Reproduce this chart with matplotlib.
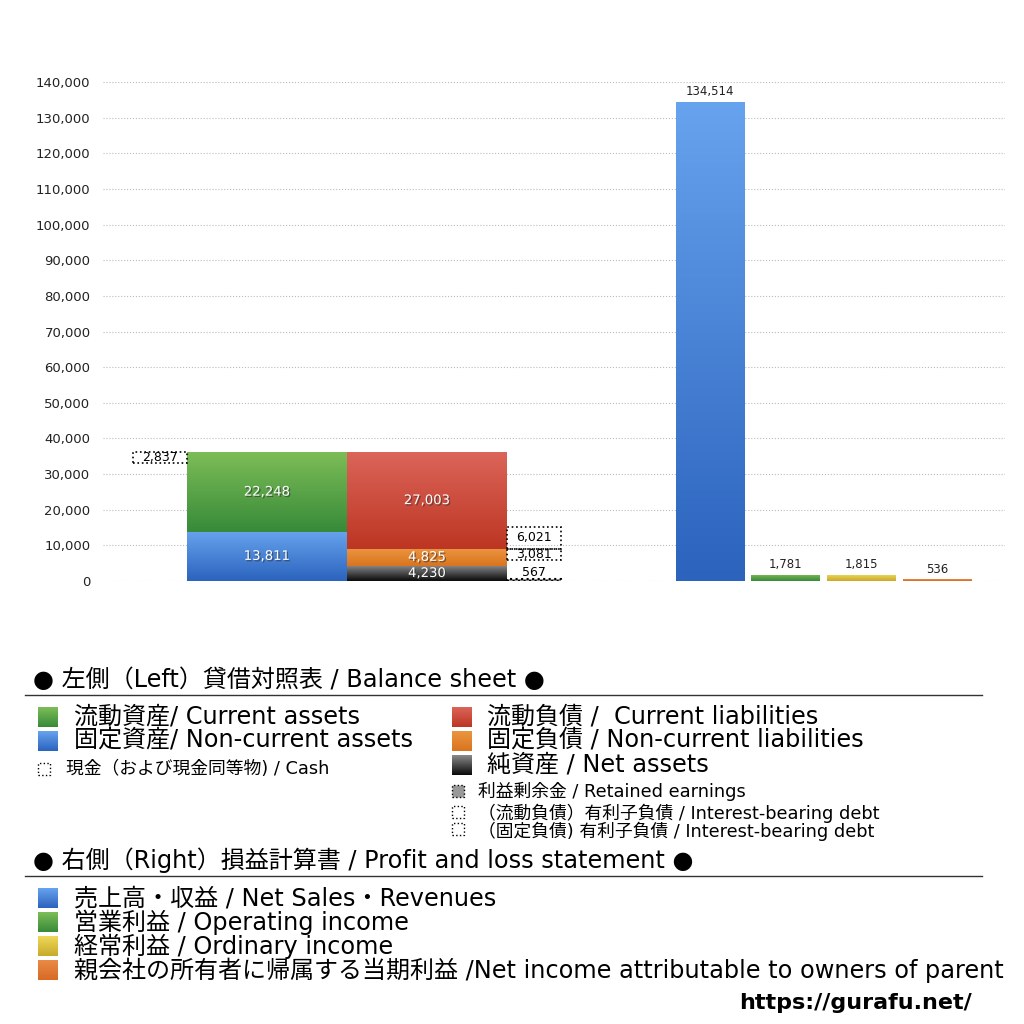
import numpy as np
import matplotlib
matplotlib.use("Agg")
import matplotlib.pyplot as plt
from matplotlib.patches import Rectangle
from matplotlib.colors import LinearSegmentedColormap
import matplotlib.patheffects as pe

plt.rcParams['font.family'] = ['DejaVu Sans', 'Noto Sans CJK JP']

# balance sheet (left)
current_assets = 22248
noncurrent_assets = 13811
cash = 2837
current_liab = 27003
noncurrent_liab = 4825
net_assets = 4230
retained_earnings = 567
ibd_current = 6021
ibd_noncurrent = 3081

# profit and loss (right)
pl_names = ['売上高', '営業利益', '経常利益', '当期利益']
pl_values = [134514, 1781, 1815, 536]

# gradient colours (top, bottom)
C_GREEN = ('#7dbd57', '#378a39')
C_BLUE = ('#67a3ee', '#2b63bd')
C_RED = ('#db6559', '#bd3523')
C_ORANGE = ('#eb9540', '#d9741f')
C_BLACK = ('#8a8a8a', '#0a0a0a')
C_YELLOW = ('#eed85a', '#c9aa2a')
C_NI = ('#e98a45', '#d86a25')

BIG = 17.3
SMALL = 12.8

fig = plt.figure(figsize=(10.24, 10.24), dpi=100)
ax = fig.add_axes([103/1024, 1-581/1024, 902/1024, 499/1024])


def gbar(x, h, w, cols, bottom=0):
    b = ax.bar(x, h, w, bottom=bottom, color=cols[1], linewidth=0, zorder=2)[0]
    cmap = LinearSegmentedColormap.from_list('g', [cols[1], cols[0]])
    grad = np.linspace(0, 1, 256).reshape(-1, 1)
    im = ax.imshow(grad, cmap=cmap, origin='lower', aspect='auto',
                   extent=[x - w/2, x + w/2, bottom, bottom + h], zorder=3,
                   interpolation='bilinear')
    im.set_clip_path(b)
    return b


def inlabel(x, y, s):
    ax.text(x, y, s, ha='center', va='center', color='white', fontsize=9.5,
            zorder=5, path_effects=[pe.withSimplePatchShadow(offset=(1, -1), shadow_rgbFace='#333333', alpha=0.6)])


# left bars
xa, xl, wb = 1.64, 3.24, 1.6
gbar(xa, noncurrent_assets, wb, C_BLUE)
gbar(xa, current_assets, wb, C_GREEN, bottom=noncurrent_assets)
inlabel(xa, noncurrent_assets/2, f'{noncurrent_assets:,}')
inlabel(xa, noncurrent_assets + current_assets/2, f'{current_assets:,}')

gbar(xl, net_assets, wb, C_BLACK)
gbar(xl, noncurrent_liab, wb, C_ORANGE, bottom=net_assets)
gbar(xl, current_liab, wb, C_RED, bottom=net_assets + noncurrent_liab)
inlabel(xl, net_assets/2, f'{net_assets:,}')
inlabel(xl, net_assets + noncurrent_liab/2, f'{noncurrent_liab:,}')
inlabel(xl, net_assets + noncurrent_liab + current_liab/2, f'{current_liab:,}')

total_assets = current_assets + noncurrent_assets
dbox = dict(fill=False, edgecolor='black', linestyle=':', linewidth=1.2, zorder=6)

# cash box
ax.add_patch(Rectangle((0.30, total_assets - cash), 0.54, cash, **dbox))
ax.text(0.57, total_assets - cash/2, f'{cash:,}', ha='center', va='center', fontsize=9, zorder=7)

# interest-bearing debt boxes
cl_bottom = net_assets + noncurrent_liab
ax.add_patch(Rectangle((4.04, cl_bottom), 0.54, ibd_current, **dbox))
ax.text(4.31, cl_bottom + ibd_current/2, f'{ibd_current:,}', ha='center', va='center', fontsize=9, zorder=7)
ax.add_patch(Rectangle((4.04, cl_bottom - ibd_noncurrent), 0.54, ibd_noncurrent, **dbox))
ax.text(4.31, cl_bottom - ibd_noncurrent/2, f'{ibd_noncurrent:,}', ha='center', va='center', fontsize=9, zorder=7)
# retained earnings
ax.add_patch(Rectangle((4.04, 0), 0.54, retained_earnings, fill=True, facecolor='#999999',
                       edgecolor='black', linestyle=':', linewidth=1.5, zorder=6))
ax.text(4.31, 2400, f'{retained_earnings:,}', ha='center', va='center', fontsize=9, zorder=7)

# right bars
pl_x = [6.07, 6.825, 7.585, 8.345]
pl_cols = [C_BLUE, C_GREEN, C_YELLOW, C_NI]
for x, v, c in zip(pl_x, pl_values, pl_cols):
    gbar(x, v, 0.69, c)
    ax.text(x, v + 1000, f'{v:,}', ha='center', va='bottom', fontsize=8.5, color='#222222', zorder=7)

ax.set_xlim(0, 9.02)
ax.set_ylim(0, 140000)
ax.set_yticks(np.arange(0, 140001, 10000))
ax.set_yticklabels([f'{t:,}' for t in range(0, 140001, 10000)], fontsize=9.5, color='#222222')
ax.tick_params(axis='y', length=0, pad=9)
ax.set_xticks([])
ax.grid(axis='y', linestyle=':', color='#bbbbbb', linewidth=0.8, zorder=0)
ax.set_axisbelow(True)
for s in ax.spines.values():
    s.set_visible(False)


# ---- legend area ----
def fx(px):
    return px / 1024


def fy(py):
    return 1 - py / 1024


def swatch(x0, y0, w, h, cols):
    a = fig.add_axes([fx(x0), fy(y0 + h), fx(w), h/1024])
    cmap = LinearSegmentedColormap.from_list('s', [cols[1], cols[0]])
    a.imshow(np.linspace(0, 1, 64).reshape(-1, 1), cmap=cmap, origin='lower', aspect='auto')
    a.axis('off')


def dotsq(x0, y0, s, face='none'):
    fig.patches.append(Rectangle((fx(x0), fy(y0 + s)), s/1024, s/1024, transform=fig.transFigure,
                                 facecolor=face, edgecolor='black', linestyle=':', linewidth=1.0))


fig.text(fx(33), fy(680), '● 左側（Left）貸借対照表 / Balance sheet ●', fontsize=BIG, va='center')
fig.add_artist(plt.Line2D([fx(25), fx(982)], [fy(695), fy(695)], color='#333333', linewidth=1))

big = [(707, C_GREEN, '流動資産/ Current assets'),
       (731, C_BLUE, '固定資産/ Non-current assets')]
for y, c, t in big:
    swatch(38, y, 20, 20, c)
    fig.text(fx(74), fy(y + 10), t, fontsize=BIG, va='center')
dotsq(38, 763, 12)
fig.text(fx(66), fy(769), '現金（および現金同等物) / Cash', fontsize=SMALL, va='center')

big_r = [(707, C_RED, '流動負債 /  Current liabilities'),
         (731, C_ORANGE, '固定負債 / Non-current liabilities'),
         (755, C_BLACK, '純資産 / Net assets')]
for y, c, t in big_r:
    swatch(452, y, 20, 20, c)
    fig.text(fx(487), fy(y + 10), t, fontsize=BIG, va='center')
dotsq(452, 785, 12, face='#999999')
fig.text(fx(478), fy(791), '利益剰余金 / Retained earnings', fontsize=SMALL, va='center')
dotsq(452, 806, 12)
fig.text(fx(478), fy(813), '（流動負債）有利子負債 / Interest-bearing debt', fontsize=SMALL, va='center')
dotsq(452, 823, 12)
fig.text(fx(478), fy(831), '（固定負債) 有利子負債 / Interest-bearing debt', fontsize=SMALL, va='center')

fig.text(fx(33), fy(860), '● 右側（Right）損益計算書 / Profit and loss statement ●', fontsize=BIG, va='center')
fig.add_artist(plt.Line2D([fx(25), fx(982)], [fy(876), fy(876)], color='#333333', linewidth=1))

pl_leg = [(888, C_BLUE, '売上高・収益 / Net Sales・Revenues'),
          (912, C_GREEN, '営業利益 / Operating income'),
          (936, C_YELLOW, '経常利益 / Ordinary income'),
          (960, C_NI, '親会社の所有者に帰属する当期利益 /Net income attributable to owners of parent')]
for y, c, t in pl_leg:
    swatch(38, y, 20, 20, c)
    fig.text(fx(74), fy(y + 10), t, fontsize=BIG, va='center')

fig.text(fx(972), fy(1003), 'https://gurafu.net/', fontsize=16, fontweight='bold',
         ha='right', va='center')

fig.savefig('out.png', dpi=100)
